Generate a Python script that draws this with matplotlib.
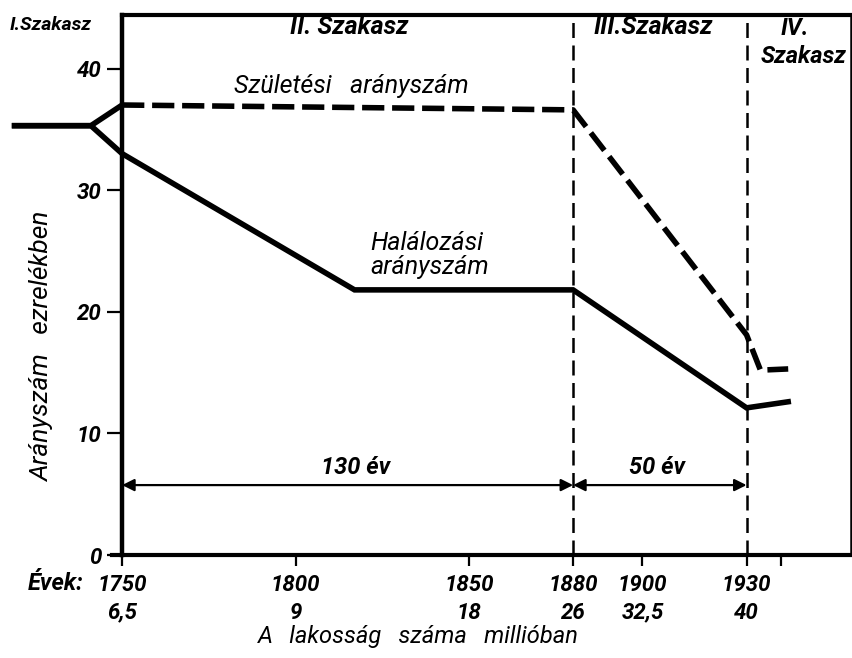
import matplotlib.pyplot as plt

# adatok (ezrelék)
ev_szuletes = [1719, 1741, 1750, 1880, 1930, 1934, 1942]
szuletes = [35.3, 35.3, 37.0, 36.6, 18.1, 15.2, 15.3]
ev_halalozas = [1719, 1741, 1750, 1817, 1880, 1930, 1942]
halalozas = [35.3, 35.3, 33.0, 21.8, 21.8, 12.1, 12.6]

evek = [1750, 1800, 1850, 1880, 1900, 1930]
lakossag = ["6,5", "9", "18", "26", "32,5", "40"]
y_ertekek = [0, 10, 20, 30, 40]
hatarok = [1880, 1930]

plt.rcParams['font.family'] = ['Roboto', 'DejaVu Sans']
plt.rcParams['font.style'] = 'italic'
plt.rcParams['font.weight'] = 'bold'

fig = plt.figure(figsize=(8.52, 6.58), dpi=100)
ax = fig.add_axes([0, 0.1565, 851 / 852, 0.8207])
ax.set_xlim(1714.8, 1960.1)
ax.set_ylim(0, 44.4)

# keret
ax.spines['left'].set_position(('data', 1750))
ax.spines['left'].set_linewidth(3.2)
ax.spines['top'].set_bounds(1750, 1960.1)
ax.spines['top'].set_linewidth(3.0)
ax.spines['bottom'].set_bounds(1747, 1960.1)
ax.spines['bottom'].set_linewidth(3.0)
ax.spines['right'].set_linewidth(1.8)

ax.set_yticks(y_ertekek)
ax.set_yticklabels([str(v) for v in y_ertekek], fontsize=16)
ax.tick_params(axis='y', direction='out', length=11, width=1.6, pad=4)

ax.set_xticks(evek + [1940])
ax.set_xticklabels([f"{e}\n{l}" for e, l in zip(evek, lakossag)] + [""],
                   fontsize=16, linespacing=1.3)
ax.tick_params(axis='x', direction='out', length=8, width=1.6, pad=6)

# szakaszhatárok
for h in hatarok:
    ax.axvline(h, color='black', lw=1.8, ls=(0, (6, 3)))

# görbék
ax.plot(ev_halalozas, halalozas, color='black', lw=4, solid_joinstyle='miter',
        clip_on=False)
ax.plot(ev_szuletes[2:], szuletes[2:], color='black', lw=4, ls=(0, (4, 1.4)),
        clip_on=False)
ax.plot(ev_szuletes[:3], szuletes[:3], color='black', lw=4, clip_on=False)

# időtartam nyilak
nyil = dict(arrowstyle='<|-|>', color='black', lw=1.6, mutation_scale=18,
            shrinkA=0, shrinkB=0)
ax.annotate("", xy=(1750, 5.75), xytext=(1880, 5.75), arrowprops=nyil)
ax.annotate("", xy=(1880, 5.75), xytext=(1930, 5.75), arrowprops=nyil)
ax.text(1817.4, 7.2, "130 év", fontsize=17, ha='center', va='center')
ax.text(1904.2, 7.2, "50 év", fontsize=17, ha='center', va='center')

# feliratok
ax.text(1816, 38.6, "Születési   arányszám", fontsize=18, ha='center', va='center',
        fontweight='normal')
ax.text(1821.5, 24.7, "Halálozási\narányszám", fontsize=18, ha='left', va='center',
        fontweight='normal', linespacing=1.0)

ax.text(1717.5, 43.6, "I.Szakasz", fontsize=14, ha='left', va='center')
ax.text(1815.5, 43.4, "II. Szakasz", fontsize=18, ha='center', va='center')
ax.text(1903, 43.4, "III.Szakasz", fontsize=18, ha='center', va='center')
ax.text(1944, 43.3, "IV.", fontsize=17, ha='center', va='center')
ax.text(1946.5, 41.0, "Szakasz", fontsize=17, ha='center', va='center')

ax.text(1722.9, -2.35, "Évek:", fontsize=17, ha='left', va='center')
ax.text(1835.5, -6.7, "A   lakosság   száma   millióban", fontsize=17,
        ha='center', va='center', fontweight='normal')
ax.text(1726.9, 17.1, "Arányszám   ezrelékben", fontsize=19, rotation=90,
        ha='center', va='center', fontweight='normal')

fig.savefig("out.png", dpi=100)
